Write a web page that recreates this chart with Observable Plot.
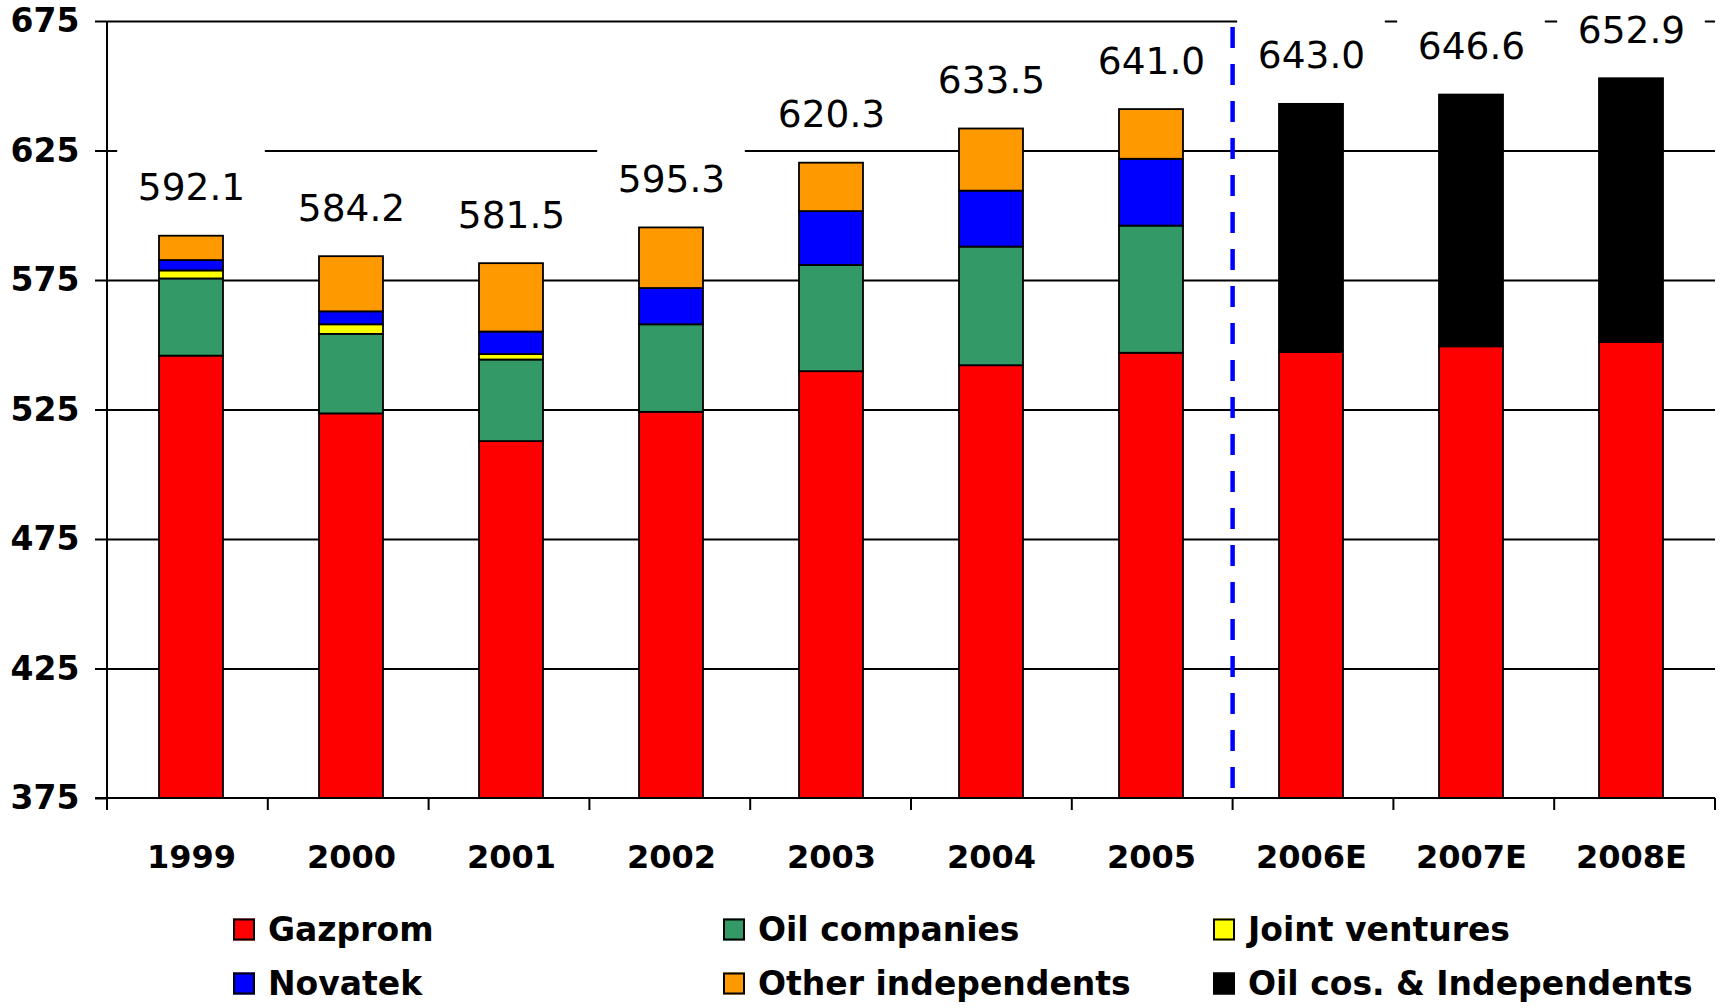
<!DOCTYPE html>
<html><head><meta charset="utf-8">
<script src="https://cdn.jsdelivr.net/npm/d3@7"></script>
<script src="https://cdn.jsdelivr.net/npm/@observablehq/plot@0.6"></script>
<style>
body{margin:0;background:#fff;font-family:"DejaVu Sans",sans-serif;}
#wrap{position:relative;width:1723px;height:1008px;overflow:hidden;}
.item{position:absolute;display:flex;align-items:center;font-size:33px;font-weight:bold;color:#000;white-space:nowrap;transform:translateY(-50%);}
.sw{width:22px;height:22px;box-sizing:border-box;border:2px solid #000;margin-right:13px;}
</style></head><body><div id="wrap"></div>
<script>
const years = ["1999","2000","2001","2002","2003","2004","2005","2006E","2007E","2008E"];
const gazprom = [545.8, 523.5, 512.8, 524.1, 539.8, 542.1, 546.9, 547.2, 549.4, 551.1];
const oilCompanies = [29.8, 30.7, 31.5, 33.8, 41.0, 45.8, 49.1, null, null, null];
const jointVentures = [3.1, 3.7, 2.1, 0, 0, 0, 0, null, null, null];
const novatek = [4.0, 5.0, 8.7, 14.0, 20.8, 21.6, 25.8, null, null, null];
const otherIndependents = [9.4, 21.3, 26.4, 23.4, 18.7, 24.0, 19.2, null, null, null];
const oilCosIndependents = [null, null, null, null, null, null, null, 95.8, 97.2, 101.8];
const totals = [592.1, 584.2, 581.5, 595.3, 620.3, 633.5, 641.0, 643.0, 646.6, 652.9];
const seriesNames = ["Gazprom","Oil companies","Joint ventures","Novatek","Other independents","Oil cos. & Independents"];
const seriesColors = ["#FF0000","#339966","#FFFF00","#0000FF","#FF9900","#000000"];
const yTicks = [375,425,475,525,575,625,675];
const legendRows = [["Gazprom","Oil companies","Joint ventures"],["Novatek","Other independents","Oil cos. & Independents"]];

const seriesArrays = [gazprom, oilCompanies, jointVentures, novatek, otherIndependents, oilCosIndependents];
const table = [];
years.forEach((yr, i) => seriesArrays.forEach((arr, s) => {
  if (arr[i] != null && arr[i] > 0) table.push({year: yr, series: seriesNames[s], value: arr[i]});
}));
const totalRows = years.map((yr, i) => ({year: yr, total: totals[i]}));

const W = 1723, H = 900, ML = 107, MR = 8, MT = 21, MB = 102;
const n = years.length;

function extras(index, scales, values, dims) {
  const g = d3.create("svg:g");
  const x0 = dims.marginLeft, x1 = dims.width - dims.marginRight;
  const yT = dims.marginTop, yB = dims.height - dims.marginBottom;
  const step = (x1 - x0) / n;
  g.append("line").attr("x1", x0).attr("x2", x0).attr("y1", yT).attr("y2", yB)
    .attr("stroke", "black").attr("stroke-width", 2);
  g.append("line").attr("x1", x0 - 12).attr("x2", x1).attr("y1", yB).attr("y2", yB)
    .attr("stroke", "black").attr("stroke-width", 2);
  for (let i = 0; i <= n; i++) {
    const xx = x0 + i * step;
    g.append("line").attr("x1", xx).attr("x2", xx).attr("y1", yB).attr("y2", yB + 12)
      .attr("stroke", "black").attr("stroke-width", 2);
  }
  const xd = x0 + years.indexOf("2006E") * step;
  g.append("line").attr("x1", xd).attr("x2", xd).attr("y1", yT + 6).attr("y2", yB - 4)
    .attr("stroke", "#0000FF").attr("stroke-width", 4.5).attr("stroke-dasharray", "21,16");
  return g.node();
}

const bw = (W - ML - MR) / n * 0.4;
const boxInset = -(148 - bw) / 2;

const plot = Plot.plot({
  width: W, height: H,
  marginLeft: ML, marginRight: MR, marginTop: MT, marginBottom: MB,
  style: {fontFamily: "DejaVu Sans", background: "white", color: "black"},
  x: {domain: years, paddingInner: 0.6, paddingOuter: 0.3, label: null},
  y: {domain: [375, 675], label: null},
  color: {domain: seriesNames, range: seriesColors},
  marks: [
    Plot.ruleY([425,475,525,575,625,675], {stroke: "black", strokeWidth: 1.8}),
    Plot.barY(totalRows, {x: "year", y1: d => d.total + 6, y2: d => d.total + 33.2, fill: "white", insetLeft: boxInset, insetRight: boxInset}),
    Plot.barY(table, {x: "year", y: "value", fill: "series", order: seriesNames, stroke: "black", strokeWidth: 1.8, clip: true}),
    Plot.text(totalRows, {x: "year", y: "total", text: d => d.total.toFixed(1), dy: -48, lineAnchor: "middle", fontSize: 37.5, fill: "black"}),
    Plot.axisY({ticks: yTicks, tickSize: 12, tickPadding: 16, fontSize: 33, fontWeight: "bold", tickFormat: d => String(d), stroke: "black", strokeWidth: 2, label: null}),
    Plot.axisX({tickSize: 0, tickPadding: 47, fontSize: 32, fontWeight: "bold", label: null}),
    extras
  ]
});
const wrap = document.getElementById("wrap");
wrap.appendChild(plot);

const colLeft = [233, 723, 1213];
const rowY = [929, 983];
legendRows.forEach((row, r) => row.forEach((name, c) => {
  const it = document.createElement("div");
  it.className = "item";
  it.style.left = colLeft[c] + "px";
  it.style.top = rowY[r] + "px";
  const sw = document.createElement("div");
  sw.className = "sw";
  sw.style.background = seriesColors[seriesNames.indexOf(name)];
  const tx = document.createElement("span");
  tx.textContent = name;
  it.appendChild(sw); it.appendChild(tx);
  wrap.appendChild(it);
}));
</script></body></html>
